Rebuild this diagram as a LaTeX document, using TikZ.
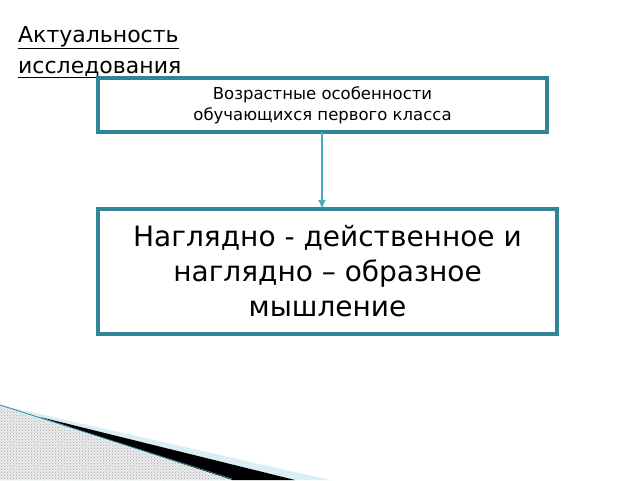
\documentclass[tikz,border=0pt]{standalone}
\usepackage{fontspec}
\setmainfont{DejaVu Sans}
\usetikzlibrary{patterns,arrows.meta}
\definecolor{teal1}{HTML}{31849B}
\definecolor{lblue}{HTML}{4BACC6}
\definecolor{pale}{HTML}{DAEEF3}
\begin{document}
\begin{tikzpicture}[x=1pt,y=-1pt,
  box/.style={draw=teal1,line width=3.5pt,fill=white,align=center,inner sep=0pt}]
\useasboundingbox (0,0) rectangle (640,480);
% decoration
\fill[pale] (0,405) -- (330,480) -- (0,480) -- cycle;
\fill[black] (40,417) -- (295,480) -- (232,480) -- cycle;
\fill[gray!15] (0,407) -- (232,480) -- (0,480) -- cycle;
\fill[pattern=crosshatch dots, pattern color=gray!70] (0,407) -- (232,480) -- (0,480) -- cycle;
\draw[teal1,line width=0.8pt] (0,405) -- (232,479);
\node[anchor=north west,align=left,font=\fontsize{22}{31}\selectfont,inner sep=0pt] (title) at (18,26)
  {\underline{Актуальность}\\\underline{исследования}};
\node[box,minimum width=449,minimum height=54,font=\fontsize{16.5}{21}\selectfont] (b1) at (322.5,105)
  {Возрастные особенности\\обучающихся первого класса};
\node[box,minimum width=459,minimum height=125,font=\fontsize{28}{35}\selectfont] (b2) at (327.5,271.5)
  {Наглядно - действенное и\\наглядно – образное\\мышление};
\coordinate (a1) at (322,132);
\coordinate (a2) at (322,209);
\draw[lblue,line width=2.5pt,-{Latex[length=9pt,width=8pt]}] (a1) -- (a2);
\end{tikzpicture}
\end{document}
